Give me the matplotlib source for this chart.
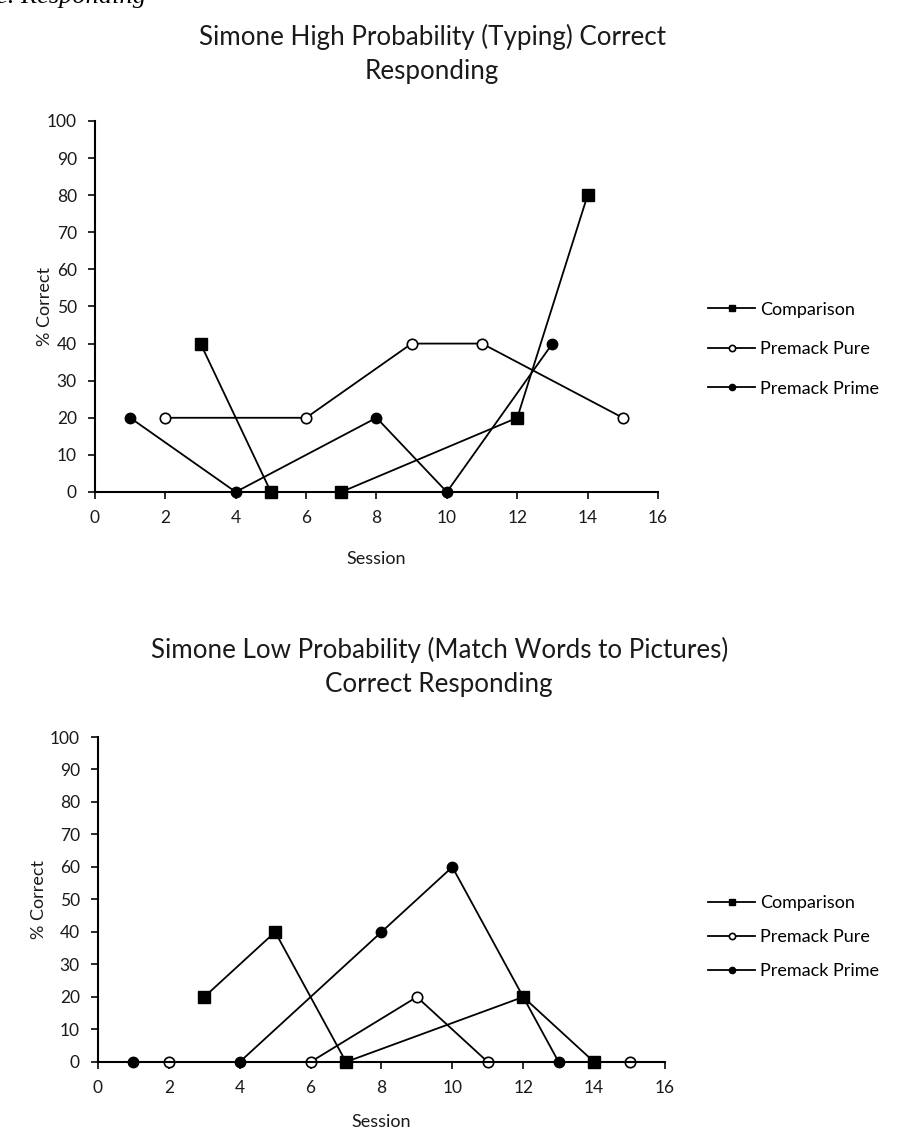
import matplotlib
matplotlib.use("Agg")
import matplotlib.pyplot as plt

plt.rcParams['font.family'] = ['Lato', 'DejaVu Sans']

# sessions and % correct for each condition
comp_sessions = [3, 5, 7, 12, 14]
pure_sessions = [2, 6, 9, 11, 15]
prime_sessions = [1, 4, 8, 10, 13]

high_comparison = [40, 0, 0, 20, 80]
high_pure = [20, 20, 40, 40, 20]
high_prime = [20, 0, 20, 0, 40]

low_comparison = [20, 40, 0, 20, 0]
low_pure = [0, 0, 20, 0, 0]
low_prime = [0, 0, 40, 60, 0]

series_labels = ["Comparison", "Premack Pure", "Premack Prime"]
x_ticks = list(range(0, 17, 2))
y_ticks = list(range(0, 101, 10))

high_title = "Simone High Probability (Typing) Correct\nResponding"
low_title = "Simone Low Probability (Match Words to Pictures)\nCorrect Responding"

fig = plt.figure(figsize=(9.02, 11.37), dpi=100)

# partial caption line running off the top edge
fig.text(-0.004, 0.9975, "e. Responding", family="Liberation Serif",
         style="italic", fontsize=19, ha="left", va="baseline")


def draw_panel(rect, comp, pure, prime, title, title_x, title_y,
               legend_y, legend_gap, ylab_x, xlab_y):
    ax = fig.add_axes(rect)
    ax.plot(comp_sessions, comp, color="black", lw=1.3, marker="s", ms=8,
            mfc="black", mec="black", label=series_labels[0], clip_on=False)
    ax.plot(pure_sessions, pure, color="black", lw=1.3, marker="o", ms=7.5,
            mfc="white", mec="black", mew=1.2, label=series_labels[1], clip_on=False)
    ax.plot(prime_sessions, prime, color="black", lw=1.3, marker="o", ms=7.5,
            mfc="black", mec="black", label=series_labels[2], clip_on=False)

    ax.set_xlim(0, 16)
    ax.set_ylim(0, 100)
    ax.set_xticks(x_ticks)
    ax.set_yticks(y_ticks)
    ax.spines["top"].set_visible(False)
    ax.spines["right"].set_visible(False)
    for s in ("left", "bottom"):
        ax.spines[s].set_linewidth(1.5)
    ax.tick_params(direction="out", length=5, width=1.3, labelsize=12.5,
                   colors="#1a1a1a", pad=8)
    ax.set_xlabel("Session", fontsize=13, color="#1a1a1a")
    ax.set_ylabel("% Correct", fontsize=13, color="#1a1a1a")
    ax.yaxis.set_label_coords(ylab_x, 0.5)
    ax.xaxis.set_label_coords(0.5, xlab_y)

    fig.text(title_x, title_y, title, fontsize=18.7, ha="center", va="center",
             linespacing=1.45, color="#1a1a1a")

    ax.legend(loc="upper left", bbox_to_anchor=(0.767, legend_y),
              bbox_transform=fig.transFigure, frameon=False,
              fontsize=13, handlelength=2.6, handletextpad=0.3,
              labelspacing=legend_gap, markerscale=0.6)
    return ax


draw_panel([0.1053, 0.5673, 0.6242, 0.3263], high_comparison, high_pure,
           high_prime, high_title, 0.479, 0.9525, 0.749, 1.3, -0.075, -0.16)
draw_panel([0.1086, 0.0660, 0.6286, 0.2858], low_comparison, low_pure,
           low_prime, low_title, 0.487, 0.413, 0.227, 1.0, -0.09, -0.16)

fig.savefig("out.png", dpi=100)
